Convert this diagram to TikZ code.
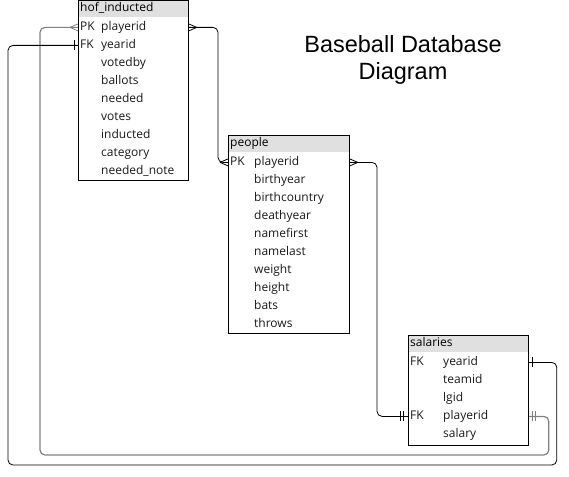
\documentclass[tikz,border=0pt]{standalone}
\usepackage{fontspec}
\setmainfont{Open Sans}
\newfontfamily\titlefont{Liberation Sans}
\usetikzlibrary{positioning}
\begin{document}
\begin{tikzpicture}[x=1pt,y=-1pt]
	\tikzstyle{tabbox} = [rectangle,draw,line width=0.8pt,anchor=north west,inner sep=0pt]
	\tikzstyle{tabhead} = [rectangle,fill=black!12,anchor=north west,inner sep=2pt,minimum height=17pt,align=left,text height=9pt,text depth=3pt,font=\fontsize{12}{14}\selectfont]
	\tikzstyle{field} = [inner sep=0pt,anchor=west,text height=9pt,text depth=3pt,font=\fontsize{12}{14}\selectfont,text=black!90]
	\tikzstyle{link} = [line width=0.8pt,rounded corners=5pt]
	\tikzstyle{tick} = [line width=0.8pt]

	\useasboundingbox (0,0) rectangle (569,476);

	% hof_inducted
	\node[tabhead,text width=106pt] (hofh) at (78,0) {hof\_inducted};
	\node[tabbox,minimum width=110pt,minimum height=180pt] (hof) at (hofh.north west) {};
	\node[field] (hofk1) at ([xshift=2pt,yshift=-10pt]hofh.south west) {PK};
	\node[field] (hofk2) at ([yshift=-18pt]hofk1.west) {FK};
	\node[field] (hof1) at ([xshift=23pt,yshift=-10pt]hofh.south west) {playerid};
	\node[field] (hof2) at ([yshift=-18pt]hof1.west) {yearid};
	\node[field] (hof3) at ([yshift=-18pt]hof2.west) {votedby};
	\node[field] (hof4) at ([yshift=-18pt]hof3.west) {ballots};
	\node[field] (hof5) at ([yshift=-18pt]hof4.west) {needed};
	\node[field] (hof6) at ([yshift=-18pt]hof5.west) {votes};
	\node[field] (hof7) at ([yshift=-18pt]hof6.west) {inducted};
	\node[field] (hof8) at ([yshift=-18pt]hof7.west) {category};
	\node[field] (hof9) at ([yshift=-18pt]hof8.west) {needed\_note};

	% people
	\node[tabhead,text width=117pt] (peoh) at (228,135) {people};
	\node[tabbox,minimum width=121pt,minimum height=198pt] (peo) at (peoh.north west) {};
	\node[field] (peok1) at ([xshift=2pt,yshift=-10pt]peoh.south west) {PK};
	\node[field] (peo1) at ([xshift=26pt,yshift=-10pt]peoh.south west) {playerid};
	\node[field] (peo2) at ([yshift=-18pt]peo1.west) {birthyear};
	\node[field] (peo3) at ([yshift=-18pt]peo2.west) {birthcountry};
	\node[field] (peo4) at ([yshift=-18pt]peo3.west) {deathyear};
	\node[field] (peo5) at ([yshift=-18pt]peo4.west) {namefirst};
	\node[field] (peo6) at ([yshift=-18pt]peo5.west) {namelast};
	\node[field] (peo7) at ([yshift=-18pt]peo6.west) {weight};
	\node[field] (peo8) at ([yshift=-18pt]peo7.west) {height};
	\node[field] (peo9) at ([yshift=-18pt]peo8.west) {bats};
	\node[field] (peo10) at ([yshift=-18pt]peo9.west) {throws};

	% salaries
	\node[tabhead,text width=116pt] (salh) at (408,335) {salaries};
	\node[tabbox,minimum width=120pt,minimum height=110pt] (sal) at (salh.north west) {};
	\node[field] (salk1) at ([xshift=2pt,yshift=-10pt]salh.south west) {FK};
	\node[field] (salk4) at ([yshift=-54pt]salk1.west) {FK};
	\node[field] (sal1) at ([xshift=35pt,yshift=-10pt]salh.south west) {yearid};
	\node[field] (sal2) at ([yshift=-18pt]sal1.west) {teamid};
	\node[field] (sal3) at ([yshift=-18pt]sal2.west) {lgid};
	\node[field] (sal4) at ([yshift=-18pt]sal3.west) {playerid};
	\node[field] (sal5) at ([yshift=-18pt]sal4.west) {salary};

	% title
	\node[font=\titlefont\fontsize{23.5}{27}\selectfont,align=center] (title) at (403,60) {Baseball Database\\Diagram};

	% connector ends
	\coordinate (hofPKw) at (hof.west |- hof1);
	\coordinate (hofPKe) at (hof.east |- hof1);
	\coordinate (hofFKw) at (hof.west |- hof2);
	\coordinate (peoPKw) at (peo.west |- peo1);
	\coordinate (peoPKe) at (peo.east |- peo1);
	\coordinate (salYe) at (sal.east |- sal1);
	\coordinate (salPw) at (sal.west |- sal4);
	\coordinate (salPe) at (sal.east |- sal4);
	\coordinate (loopin) at (40,455);
	\coordinate (loopout) at (8,465);

	\draw[link] (hofPKe) -| ([xshift=-10pt]peoPKw) -- (peoPKw);
	\draw[link] (peoPKe) -| ([xshift=-31pt]salPw) -- (salPw);
	\draw[link,black!50,line width=1.2pt] (hofPKw) -| (loopin) -| ([xshift=20pt]salPe) -- (salPe);
	\draw[link] (hofFKw) -| (loopout) -| ([xshift=28pt]salYe) -- (salYe);

	% crow's feet
	\draw[tick,black!50] ([xshift=-8pt]hofPKw) -- ([yshift=3.5pt]hofPKw) ([xshift=-8pt]hofPKw) -- ([yshift=-3.5pt]hofPKw);
	\draw[tick] ([xshift=8pt]hofPKe) -- ([yshift=3.5pt]hofPKe) ([xshift=8pt]hofPKe) -- ([yshift=-3.5pt]hofPKe);
	\draw[tick] ([xshift=-8pt]peoPKw) -- ([yshift=3.5pt]peoPKw) ([xshift=-8pt]peoPKw) -- ([yshift=-3.5pt]peoPKw);
	\draw[tick] ([xshift=8pt]peoPKe) -- ([yshift=3.5pt]peoPKe) ([xshift=8pt]peoPKe) -- ([yshift=-3.5pt]peoPKe);

	% bars
	\draw[tick] ([xshift=-4pt,yshift=5pt]hofFKw) -- ([xshift=-4pt,yshift=-5pt]hofFKw);
	\draw[tick] ([xshift=4pt,yshift=5pt]salYe) -- ([xshift=4pt,yshift=-5pt]salYe);
	\draw[tick,black!50] ([xshift=4pt,yshift=5pt]salPe) -- ([xshift=4pt,yshift=-5pt]salPe);
	\draw[tick,black!50] ([xshift=7pt,yshift=5pt]salPe) -- ([xshift=7pt,yshift=-5pt]salPe);
	\draw[tick] ([xshift=-5pt,yshift=5pt]salPw) -- ([xshift=-5pt,yshift=-5pt]salPw);
	\draw[tick] ([xshift=-8pt,yshift=5pt]salPw) -- ([xshift=-8pt,yshift=-5pt]salPw);
\end{tikzpicture}
\end{document}
